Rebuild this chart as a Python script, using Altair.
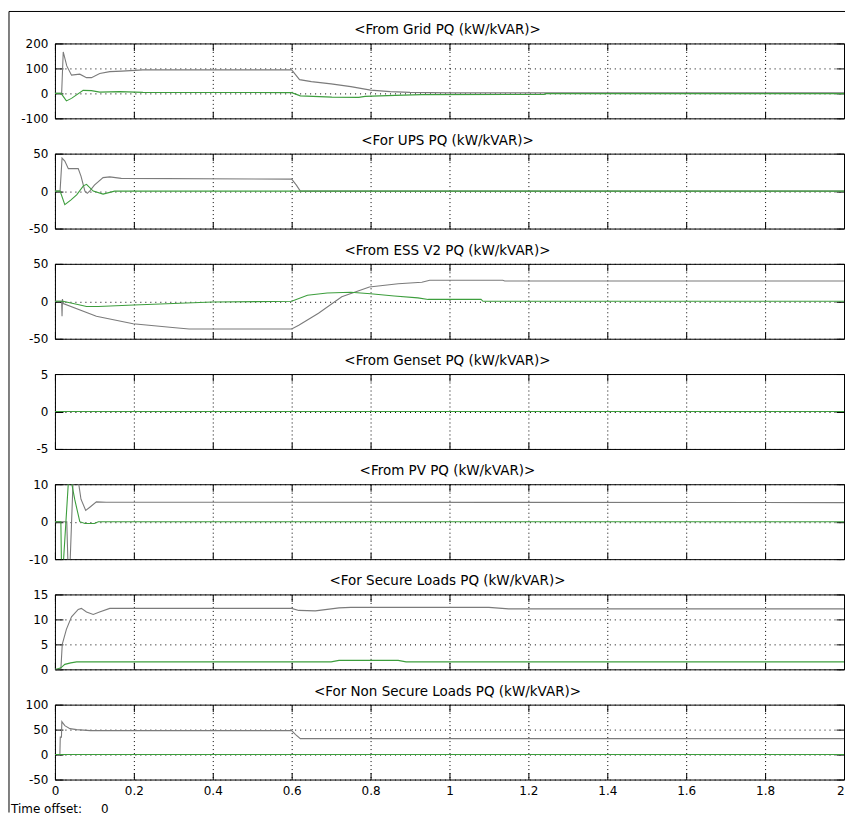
import altair as alt
import pandas as pd

FONT = "DejaVu Sans"
GRAY = "#7b7b7b"
GREEN = "#3d9e3d"

TITLES = [
    "<From Grid PQ (kW/kVAR)>",
    "<For UPS PQ (kW/kVAR)>",
    "<From ESS V2 PQ (kW/kVAR)>",
    "<From Genset PQ (kW/kVAR)>",
    "<From PV PQ (kW/kVAR)>",
    "<For Secure Loads PQ (kW/kVAR)>",
    "<For Non Secure Loads PQ (kW/kVAR)>",
]
Y_DOMAINS = [[-100, 200], [-50, 50], [-50, 50], [-5, 5], [-10, 10], [0, 15], [-50, 100]]
Y_TICKS = [[-100, 0, 100, 200], [-50, 0, 50], [-50, 0, 50], [-5, 0, 5],
           [-10, 0, 10], [0, 5, 10, 15], [-50, 0, 50, 100]]
X_TICKS = [0, 0.2, 0.4, 0.6, 0.8, 1, 1.2, 1.4, 1.6, 1.8, 2]
FOOTER = "Time offset:" + "\u00a0" * 5 + "0"

# ---- Grid ----
grid_p_t = [0, 0.017, 0.021, 0.03, 0.042, 0.063, 0.08, 0.0925, 0.1135, 0.139, 0.17, 0.223,
            0.6, 0.62, 0.65, 0.7, 0.75, 0.8, 0.85, 0.9, 0.95, 1.0, 2.0]
grid_p_v = [0, 0, 166, 110, 73, 77, 63, 63, 80, 87, 89, 94,
            94, 55, 47, 38, 27, 13, 7, 4, 3, 2, 2]
grid_q_t = [0, 0.0155, 0.029, 0.042, 0.0715, 0.0925, 0.1135, 0.164, 0.223, 0.6, 0.622,
            0.702, 0.77, 0.786, 0.862, 0.93, 1.24, 1.245, 2.0]
grid_q_v = [0, 0, -30, -20, 12, 11, 5, 7, 4, 3, -10,
            -15, -16, -12, -8, -5, -4, -1, -1]
# ---- UPS ----
ups_p_t = [0, 0.013, 0.018, 0.025, 0.034, 0.059, 0.066, 0.076, 0.082, 0.088, 0.1, 0.122,
           0.139, 0.168, 0.6, 0.612, 0.622, 2.0]
ups_p_v = [0, 0, 44, 40, 30, 30, 20, 0, -3, 0, 8, 18, 19, 17, 16, 8, 0, 0]
ups_q_t = [0, 0.013, 0.025, 0.04, 0.055, 0.072, 0.08, 0.097, 0.122, 0.151, 2.0]
ups_q_v = [0, 0, -18, -12, -5, 7, 9, 0, -4, 0, 0]
# ---- ESS ----
ess_p_t = [0, 0.017, 0.018, 0.019, 0.021, 0.105, 0.198, 0.298, 0.34, 0.6, 0.618, 0.668,
           0.727, 0.797, 0.87, 0.93, 0.95, 1.135, 1.14, 2.0]
ess_p_v = [0, 0, -20, 3, -3, -20, -30, -35, -37, -37, -32, -16, 6, 19, 23.5, 25.5, 28, 28, 27, 27]
ess_q_t = [0, 0.02, 0.055, 0.08, 0.11, 0.2, 0.3, 0.4, 0.6, 0.64, 0.69, 0.75, 0.8, 0.86,
           0.92, 0.946, 1.08, 1.085, 2.0]
ess_q_v = [0, 0, -4, -7, -7, -5, -3, -1, 0, 8, 11, 12, 10, 7, 4.5, 2.5, 2.5, 0, 0]
# ---- Genset ----
gen_p_t = [0, 2.0]
gen_p_v = [0, 0]
gen_q_t = [0, 2.0]
gen_q_v = [0, 0]
# ---- PV ----
pv_p_t = [0, 0.03, 0.034, 0.037, 0.046, 0.059, 0.066, 0.078, 0.09, 0.105, 0.13, 2.0]
pv_p_v = [0, 0, -15, -15, 11, 11, 6, 3, 4, 5.3, 5.2, 5.1]
pv_q_t = [0, 0.015, 0.017, 0.019, 0.034, 0.042, 0.05, 0.063, 0.076, 0.1, 0.11, 2.0]
pv_q_v = [0, 0, -15, -15, 10.5, 10.5, 6, 0, -0.5, -0.5, 0, 0]
# ---- Secure loads ----
sec_p_t = [0, 0.015, 0.0185, 0.029, 0.042, 0.059, 0.067, 0.08, 0.097, 0.113, 0.139, 0.6,
           0.618, 0.66, 0.72, 0.75, 1.1, 1.15, 2.0]
sec_p_v = [0, 0, 5, 8, 10.5, 12, 12.2, 11.5, 11, 11.5, 12.2, 12.2,
           11.8, 11.7, 12.3, 12.4, 12.4, 12.1, 12.1]
sec_q_t = [0, 0.004, 0.015, 0.025, 0.04, 0.055, 0.7, 0.72, 0.87, 0.89, 2.0]
sec_q_v = [0, 0, 0.3, 1.0, 1.3, 1.5, 1.5, 1.8, 1.8, 1.5, 1.5]
# ---- Non secure loads ----
nsec_p_t = [0, 0.0125, 0.0135, 0.0165, 0.0175, 0.025, 0.038, 0.055, 0.09, 0.6, 0.61, 0.622, 2.0]
nsec_p_v = [0, 0, 35, 35, 66, 58, 52, 50, 48, 48, 40, 32, 32]
nsec_q_t = [0, 2.0]
nsec_q_v = [0, 0]

P_SERIES = [(grid_p_t, grid_p_v), (ups_p_t, ups_p_v), (ess_p_t, ess_p_v), (gen_p_t, gen_p_v),
            (pv_p_t, pv_p_v), (sec_p_t, sec_p_v), (nsec_p_t, nsec_p_v)]
Q_SERIES = [(grid_q_t, grid_q_v), (ups_q_t, ups_q_v), (ess_q_t, ess_q_v), (gen_q_t, gen_q_v),
            (pv_q_t, pv_q_v), (sec_q_t, sec_q_v), (nsec_q_t, nsec_q_v)]

W, H = 790, 75
SPACING = 35.33
ONE = pd.DataFrame({"a": [0]})
LABEL_EXPR = "'' + datum.value"


def panel(i):
    pt, pv = P_SERIES[i]
    qt, qv = Q_SERIES[i]
    dp = pd.DataFrame({"t": pt, "v": pv})
    dq = pd.DataFrame({"t": qt, "v": qv})
    last = i == len(TITLES) - 1
    xs = alt.Scale(domain=[0, 2], nice=False, zero=False)
    ys = alt.Scale(domain=Y_DOMAINS[i], nice=False, zero=False)
    common = dict(domain=False, tickColor="black", tickWidth=1, title=None,
                  labelFont=FONT, labelFontSize=12, labelColor="black",
                  labelExpr=LABEL_EXPR)
    p = alt.Chart(dp).mark_line(color=GRAY, strokeWidth=1.1, clip=True).encode(
        x=alt.X("t:Q", scale=xs, axis=alt.Axis(
            orient="bottom", values=X_TICKS, labels=last, grid=True, gridDash=[1, 3],
            gridColor="black", gridOpacity=1, gridWidth=1, tickSize=7, offset=-7,
            labelPadding=6, labelFlush=False,
            labelAlign=alt.ExprRef(expr="datum.value == 2 ? 'right' : 'center'"),
            **common)),
        y=alt.Y("v:Q", scale=ys, axis=alt.Axis(
            orient="left", values=Y_TICKS[i], grid=True, gridDash=[1, 4],
            gridColor="black", gridOpacity=1, gridWidth=1, tickSize=8, offset=-8,
            labelPadding=7, labelFlush=False, **common)),
    )
    q = alt.Chart(dq).mark_line(color=GREEN, strokeWidth=1.1, clip=True).encode(
        x=alt.X("t:Q", scale=xs, axis=alt.Axis(
            orient="top", values=X_TICKS, labels=False, grid=False, tickSize=7,
            offset=-7, **common)),
        y=alt.Y("v:Q", scale=ys, axis=alt.Axis(
            orient="right", values=Y_TICKS[i], labels=False, grid=False, tickSize=8,
            offset=-8, **common)),
    )
    title = alt.Chart(ONE).mark_text(
        text=TITLES[i], align="center", baseline="alphabetic", font=FONT,
        fontSize=13.5, color="black").encode(x=alt.value(W / 2 - 2), y=alt.value(-9))
    layers = [p, q, title]
    if i == 0:
        left = alt.Chart(ONE).mark_rule(color="black", strokeWidth=1).encode(
            x=alt.value(-46), y=alt.value(-32), y2=alt.value(770))
        top = alt.Chart(ONE).mark_rule(color="black", strokeWidth=1).encode(
            x=alt.value(-46), x2=alt.value(W + 1), y=alt.value(-32))
        layers += [left, top]
    if last:
        off = alt.Chart(ONE).mark_text(
            text=FOOTER, align="left", baseline="alphabetic", font=FONT,
            fontSize=12, color="black").encode(x=alt.value(-44), y=alt.value(108))
        layers.append(off)
    return alt.layer(*layers).resolve_scale(x="independent", y="independent").properties(
        width=W, height=H)


chart = alt.vconcat(*[panel(i) for i in range(len(TITLES))], spacing=SPACING,
                    bounds="flush").properties(
    padding={"left": 0, "top": 2, "right": 0, "bottom": 0},
    background="white",
).configure_view(stroke="black", strokeWidth=1)

chart.save("out.html", embed_options={"renderer": "svg", "actions": False})
